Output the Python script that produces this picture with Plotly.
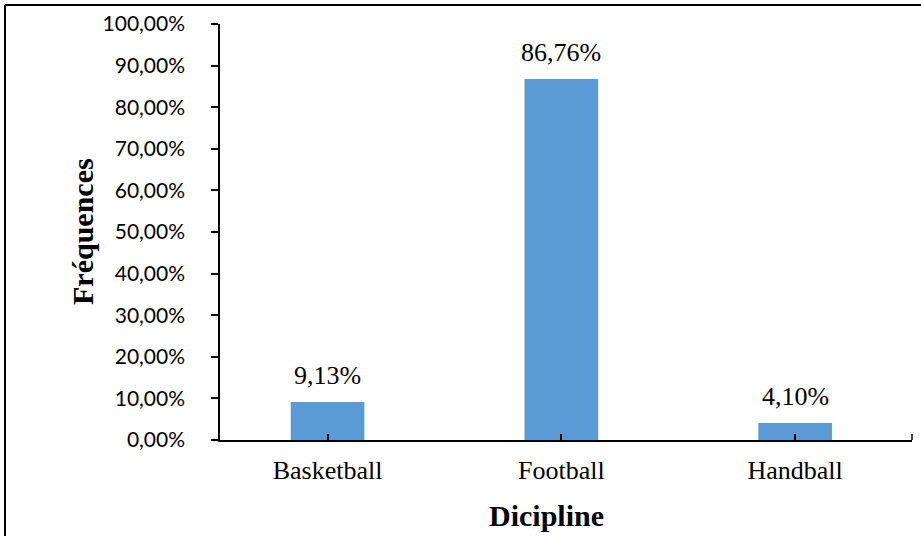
import plotly.graph_objects as go

categories = ["Basketball", "Football", "Handball"]
values = [0.0913, 0.8676, 0.0410]
y_ticks = [0, 0.1, 0.2, 0.3, 0.4, 0.5, 0.6, 0.7, 0.8, 0.9, 1.0]

serif = "Liberation Serif"
sans = "Lato"

fig = go.Figure()
fig.add_trace(go.Bar(
    x=categories, y=values, width=0.315,
    marker=dict(color="#5B9BD5", line=dict(width=0)),
    hoverinfo="skip",
))

for c, v in zip(categories, values):
    fig.add_annotation(x=c, y=v, text=f"{v*100:.2f}%".replace(".", ","),
                       showarrow=False, yanchor="bottom", yshift=10,
                       font=dict(family=serif, size=26, color="#000"))

# axis titles
fig.add_annotation(xref="paper", yref="paper", x=(546-220)/692, y=(440-515)/416,
                   xanchor="center", yanchor="middle",
                   text="<b>Dicipline</b>", showarrow=False,
                   font=dict(family=serif, size=30, color="#000"))
fig.add_annotation(xref="paper", yref="paper", x=(82-220)/692, y=(440-232)/416,
                   xanchor="center", yanchor="middle",
                   text="<b>Fréquences</b>", showarrow=False, textangle=-90,
                   font=dict(family=serif, size=30, color="#000"))

# page border (left and top)
bx = (5-220)/692
by = (440-5)/416
fig.add_shape(type="line", xref="paper", yref="paper", x0=bx, x1=bx, y0=-0.5, y1=by,
              line=dict(color="#000", width=2))
fig.add_shape(type="line", xref="paper", yref="paper", x0=bx, x1=1.2, y0=by, y1=by,
              line=dict(color="#000", width=2))
# right-end tick on x axis
fig.add_shape(type="line", xref="paper", yref="paper", x0=1, x1=1, y0=0, y1=6/416,
              line=dict(color="#000", width=1.5))

fig.update_layout(
    width=921, height=536,
    margin=dict(l=220, r=9, t=24, b=96),
    paper_bgcolor="white", plot_bgcolor="white",
    separators=",.",
    showlegend=False,
    xaxis=dict(range=[-0.46, 2.5], showline=True, linecolor="#000", linewidth=1.5,
               ticks="inside", ticklen=6, tickcolor="#000", tickwidth=1.5,
               tickfont=dict(family=serif, size=26, color="#000"),
               ticklabelstandoff=6,
               showgrid=False, zeroline=False),
    yaxis=dict(range=[0, 1], tickvals=y_ticks, tickformat=".2%",
               showline=True, linecolor="#000", linewidth=1.5,
               ticks="outside", ticklen=7, tickcolor="#000", tickwidth=1.5,
               tickfont=dict(family=sans, size=21, color="#000"),
               ticklabelstandoff=22,
               showgrid=False, zeroline=False),
)

fig.write_html("out.html")
